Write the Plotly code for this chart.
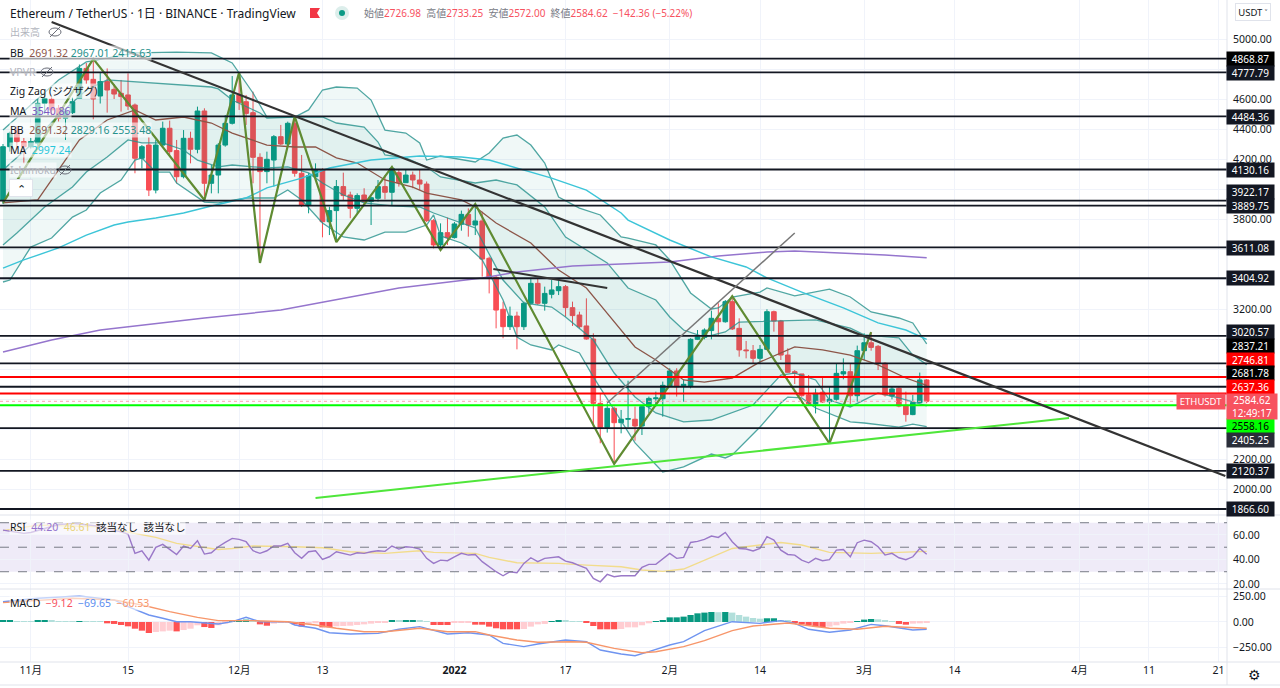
import pandas as pd
import plotly.graph_objects as go

FONT = "Noto Sans, Noto Sans CJK JP, sans-serif"
W, H = 1280, 688

# daily candles, 2021-10-28 .. 2022-03-10
start = pd.Timestamp("2021-10-28")
opens = [
    3927, 4282, 4393, 4316,
    4282, 4305, 4571, 4598, 4538, 4471, 4509, 4604, 4804, 4731, 4620, 4716, 4664, 4638, 4627, 4560,
    4205, 4293, 3993, 4293, 4405, 4256, 4082, 4338, 4265, 4520, 4038, 4093, 4293, 4438,
    4627, 4582, 4509, 4211, 4116, 4193, 4349, 4300, 4438, 4105, 3893, 4082, 4127, 3782, 3856, 4016,
    3960, 3871, 3960, 3916, 3938, 4016, 3978, 4109, 4042, 4093, 4060, 4033, 3789, 3627, 3709,
    3676, 3765, 3831, 3760, 3787, 3538, 3411, 3198, 3082, 3153, 3082, 3238, 3371, 3238, 3298, 3322,
    3349, 3209, 3160, 3087, 3000, 2571, 2411, 2538, 2442, 2465, 2465, 2420, 2549, 2602, 2602,
    2687, 2787, 2689, 2689, 2998, 3011, 3056, 3138, 3115, 3249, 3071, 2927, 2922, 2871, 2931, 3182,
    3120, 2893, 2782, 2767, 2627, 2567, 2645, 2582, 2598, 2767, 2782, 2622,
    2922, 2975, 2951, 2838, 2620, 2671, 2558, 2496, 2576, 2726.98,
]
highs = [
    4300, 4382, 4420, 4340,
    4340, 4600, 4627, 4615, 4560, 4530, 4610, 4830, 4840, 4864, 4775, 4804, 4700, 4727, 4771, 4570,
    4293, 4345, 4327, 4449, 4456, 4327, 4393, 4382, 4549, 4538, 4160, 4306, 4493, 4753,
    4776, 4627, 4649, 4238, 4249, 4360, 4427, 4449, 4482, 4227, 4105, 4171, 4138, 3882, 4060, 4109,
    3982, 3971, 4005, 3949, 4060, 4093, 4149, 4127, 4127, 4116, 4127, 4050, 3800, 3771, 3809,
    3780, 3856, 3871, 3893, 3849, 3549, 3420, 3249, 3216, 3182, 3249, 3405, 3405, 3349, 3393, 3389,
    3360, 3249, 3182, 3271, 3038, 2633, 2571, 2549, 2527, 2722, 2549, 2560, 2616, 2649, 2716,
    2805, 2805, 2731, 3005, 3060, 3071, 3189, 3238, 3260, 3282, 3138, 2987, 2960, 2960, 3198, 3189,
    3127, 2938, 2793, 2767, 2760, 2669, 2749, 2682, 2838, 2871, 2838, 2956,
    3038, 3045, 2960, 2845, 2682, 2682, 2649, 2627, 2776, 2733.25,
]
lows = [
    3900, 4249, 4270, 4171,
    4270, 4290, 4500, 4490, 4450, 4327, 4500, 4600, 4700, 4465, 4570, 4509, 4600, 4516, 4527, 4105,
    4138, 3953, 3971, 4282, 4227, 4038, 4071, 4171, 4238, 3949, 3971, 3971, 4282, 4430,
    4527, 4427, 4038, 3538, 4038, 4016, 4293, 4282, 4082, 3880, 3838, 4060, 3678, 3693, 3649, 3927,
    3805, 3838, 3887, 3760, 3916, 3931, 3893, 4016, 4040, 4005, 3993, 3780, 3604, 3598, 3627,
    3670, 3722, 3682, 3693, 3416, 3304, 3071, 3005, 3060, 2931, 3060, 3227, 3227, 3189, 3271, 3293,
    3149, 3087, 3071, 2995, 2416, 2305, 2376, 2167, 2371, 2411, 2322, 2360, 2505, 2549, 2482,
    2682, 2616, 2582, 2671, 2993, 2998, 2998, 3027, 3109, 3060, 2882, 2871, 2838, 2833, 2927, 3049,
    2860, 2776, 2700, 2615, 2560, 2504, 2575, 2304, 2589, 2731, 2567, 2582,
    2860, 2922, 2793, 2616, 2598, 2545, 2449, 2492, 2571, 2572,
]
closes = [
    4282, 4371, 4316, 4282,
    4316, 4571, 4604, 4527, 4471, 4516, 4582, 4804, 4727, 4600, 4716, 4660, 4633, 4616, 4553, 4205,
    4282, 3993, 4293, 4405, 4249, 4082, 4338, 4265, 4520, 4038, 4093, 4293, 4438, 4627,
    4576, 4504, 4211, 4116, 4198, 4349, 4300, 4438, 4105, 3893, 4089, 4127, 3782, 3856, 4016, 3956,
    3871, 3956, 3916, 3942, 4016, 3978, 4138, 4042, 4093, 4060, 4033, 3789, 3627, 3709, 3676,
    3767, 3831, 3760, 3787, 3533, 3404, 3193, 3082, 3153, 3082, 3238, 3371, 3238, 3304, 3327, 3349,
    3209, 3156, 3082, 3000, 2571, 2411, 2538, 2442, 2465, 2469, 2420, 2549, 2604, 2607, 2691,
    2787, 2682, 2698, 2998, 3015, 3060, 3138, 3115, 3249, 3067, 2927, 2922, 2871, 2931, 3182, 3120,
    2893, 2778, 2771, 2622, 2567, 2638, 2580, 2598, 2771, 2782, 2622, 2922,
    2975, 2944, 2838, 2627, 2667, 2553, 2496, 2576, 2727, 2584.62,
]

bb_outer_up_days = [0, 4, 8, 12, 19, 25, 30, 33, 34, 36, 38, 42, 44, 46, 48, 51, 53, 55, 58, 60, 61, 63, 68, 70, 72, 74, 76, 78, 80, 83, 86, 89, 90, 94, 96, 99, 102, 103, 105, 109, 110, 114, 119, 122, 125, 129, 131, 133]
bb_outer_up = [4393, 4560, 4727, 4847, 4907, 4913, 4907, 4840, 4773, 4640, 4480, 4480, 4527, 4660, 4680, 4673, 4593, 4393, 4373, 4307, 4193, 4220, 4180, 4240, 4340, 4360, 4293, 4173, 3947, 3873, 3827, 3680, 3673, 3627, 3527, 3307, 3200, 3207, 3280, 3313, 3340, 3287, 3333, 3280, 3180, 3140, 3107, 2967.01]
bb_outer_low_days = [0, 1, 4, 7, 10, 12, 14, 17, 19, 20, 22, 24, 25, 29, 31, 35, 39, 41, 43, 46, 49, 52, 55, 58, 61, 62, 63, 66, 67, 69, 72, 74, 76, 79, 80, 83, 85, 88, 91, 95, 98, 102, 104, 105, 109, 112, 113, 115, 117, 122, 124, 129, 131, 133]
bb_outer_low = [3380, 3393, 3613, 3673, 3813, 3860, 3973, 4060, 4193, 4207, 4113, 4113, 4040, 3913, 3907, 3940, 3940, 3993, 3927, 3773, 3680, 3660, 3713, 3713, 3760, 3827, 3687, 3640, 3613, 3527, 3260, 3013, 2960, 2927, 2960, 2907, 2747, 2527, 2307, 2113, 2147, 2233, 2207, 2227, 2413, 2573, 2613, 2607, 2540, 2447, 2440, 2413, 2433, 2415.63]
bb_inner_up_days = [0, 4, 8, 12, 15, 21, 30, 31, 33, 37, 38, 42, 46, 48, 52, 54, 55, 58, 61, 63, 68, 71, 74, 78, 81, 84, 87, 90, 94, 96, 98, 101, 104, 106, 111, 117, 122, 124, 129, 131, 133]
bb_inner_up = [4127, 4293, 4493, 4660, 4727, 4707, 4680, 4667, 4593, 4507, 4473, 4480, 4480, 4440, 4413, 4313, 4227, 4207, 4147, 4080, 4040, 4060, 4027, 3880, 3680, 3593, 3507, 3340, 3260, 3147, 3060, 3013, 3047, 3113, 3120, 3127, 3073, 3027, 3007, 2893, 2829.16]
bb_inner_low_days = [0, 2, 6, 10, 12, 15, 18, 20, 23, 26, 28, 31, 33, 38, 41, 44, 46, 49, 52, 56, 60, 62, 68, 72, 75, 79, 81, 85, 88, 91, 94, 98, 102, 108, 112, 114, 117, 119, 122, 126, 129, 133]
bb_inner_low = [3627, 3707, 3880, 4013, 4113, 4213, 4327, 4307, 4307, 4260, 4193, 4147, 4160, 4140, 4147, 4107, 4040, 3960, 3907, 3887, 3880, 3840, 3740, 3393, 3240, 3213, 3147, 2993, 2773, 2613, 2507, 2447, 2460, 2560, 2760, 2773, 2727, 2593, 2547, 2640, 2607, 2553.48]
bb_mid_days = [0, 5, 8, 11, 15, 19, 22, 26, 30, 33, 38, 42, 45, 48, 51, 55, 59, 61, 66, 68, 71, 76, 80, 84, 86, 89, 91, 94, 98, 101, 105, 109, 114, 118, 122, 126, 130, 133]
bb_mid = [3907, 3927, 4127, 4327, 4460, 4527, 4460, 4480, 4440, 4373, 4293, 4280, 4280, 4207, 4173, 4060, 4013, 3973, 3927, 3880, 3773, 3640, 3460, 3340, 3227, 3060, 2947, 2860, 2727, 2713, 2740, 2847, 2947, 2927, 2893, 2827, 2740, 2691.32]
ma_long_days = [0, 7, 14, 29, 40, 48, 57, 69, 74, 82, 89, 96, 103, 110, 114, 121, 127, 133]
ma_long = [2913, 2993, 3060, 3140, 3193, 3260, 3340, 3407, 3447, 3487, 3500, 3513, 3553, 3580, 3587, 3573, 3560, 3540.86]
ma_mid_days = [0, 3, 8, 12, 16, 18, 22, 26, 30, 35, 38, 43, 47, 53, 60, 66, 70, 74, 79, 84, 89, 90, 96, 102, 107, 110, 115, 121, 126, 130, 133]
ma_mid = [3473, 3527, 3607, 3693, 3760, 3780, 3807, 3840, 3887, 3940, 4007, 4073, 4140, 4193, 4220, 4213, 4193, 4140, 4073, 3993, 3840, 3793, 3660, 3547, 3480, 3407, 3313, 3207, 3107, 3060, 2997.24]

zigzag_days = [0, 13, 29, 34, 37, 42, 48, 56, 63, 68, 88, 105, 119, 125]
zigzag = [3907, 4868, 3927, 4778, 3507, 4484, 3646, 4147, 3593, 3900, 2167, 3285, 2304, 3046]

# hand drawn trend lines
trend_black_days = [7, 176]
trend_black = [5113, 2087]
trend_short_days = [70.6, 87]
trend_short = [3467, 3340]
trend_green_days = [45, 153.5]
trend_green = [1940, 2473]
trend_gray_days = [87, 114]
trend_gray = [2573, 3707]

black_levels = [4868.87, 4777.79, 4484.36, 4130.16, 3922.17, 3889.75, 3611.08, 3404.92, 3020.57, 2837.21, 2681.78, 2405.25, 2120.37, 1866.60]
red_levels = [2746.81, 2637.36]
green_levels = [2558.16]
last_price = 2584.62

rsi = [
    64.0, 63.0, 62.0, 61.3, 62.0, 63.5, 65.4, 67.0, 68.5, 68.9, 69.5, 69.0, 68.5, 68.1, 67.0, 65.0, 64.0, 62.5,
    60.7, 45.0, 47.1, 39.5, 49.9, 52.3, 48.2, 44.1, 51.0, 49.0, 55.3, 44.4, 45.5, 50.4, 53.9, 57.2, 56.4, 54.5,
    47.1, 45.0, 47.1, 51.0, 51.0, 53.1, 45.5, 40.9, 46.3, 47.1, 40.1, 42.2, 46.3, 45.0, 43.6, 45.5, 45.0, 46.3,
    47.1, 46.6, 51.0, 48.5, 50.4, 49.9, 48.5, 40.9, 36.8, 39.5, 39.0, 42.2, 45.0, 43.6, 44.1, 38.2, 34.1, 30.0,
    26.7, 30.0, 29.2, 36.8, 41.4, 38.2, 40.9, 41.7, 42.2, 38.7, 37.3, 34.9, 32.7, 24.6, 21.8, 27.8, 25.9, 26.7,
    27.0, 26.7, 33.5, 36.0, 36.0, 40.3, 45.0, 40.9, 41.7, 53.9, 54.8, 56.4, 59.1, 58.0, 62.1, 54.5, 49.0, 48.5,
    46.9, 49.0, 58.6, 55.8, 47.6, 44.1, 43.6, 39.5, 37.3, 40.9, 39.0, 39.8, 47.6, 48.2, 42.2, 53.7, 55.8, 54.5,
    50.4, 43.6, 45.0, 41.4, 39.8, 42.2, 49.0, 44.2,
]
rsi_ma_days = [0, 5, 14, 18, 22, 25, 29, 31, 33, 36, 42, 46, 50, 55, 60, 62, 68, 70, 74, 77, 80, 84, 89, 92, 95, 98, 101, 105, 109, 112, 115, 119, 125, 133]
rsi_ma = [63.5, 68.0, 66.7, 62.6, 58.0, 53.1, 49.6, 48.2, 49.0, 51.0, 50.4, 49.6, 46.3, 45.0, 47.1, 45.8, 45.0, 41.7, 37.3, 36.8, 36.8, 35.4, 34.1, 31.4, 30.3, 32.2, 39.5, 49.0, 51.8, 53.9, 51.8, 45.8, 45.0, 46.61]

macd_days = [0, 5, 11, 16, 18, 21, 23, 25, 27, 31, 33, 35, 37, 41, 42, 45, 47, 50, 54, 57, 60, 62, 64, 67, 70, 72, 75, 77, 81, 84, 86, 89, 91, 93, 96, 98, 101, 105, 109, 112, 114, 116, 119, 122, 125, 127, 131, 133]
macd = [197, 230, 252, 214, 149, 68, 36, 3, 3, -19, 3, 45, 3, 3, -29, -61, -104, -116, -110, -71, -45, -78, -116, -104, -126, -207, -239, -214, -175, -191, -272, -311, -327, -288, -223, -191, -84, 3, -13, 13, -13, -71, -100, -78, -23, -36, -78, -69.65]
signal_days = [0, 10, 16, 20, 24, 28, 31, 36, 41, 45, 48, 52, 55, 60, 64, 68, 70, 74, 77, 82, 84, 88, 92, 94, 98, 101, 105, 108, 113, 115, 119, 123, 127, 133]
signal = [188, 230, 214, 165, 100, 45, 13, 13, 3, -29, -61, -94, -94, -61, -94, -94, -126, -175, -197, -191, -197, -256, -298, -288, -239, -181, -84, -39, -10, -29, -61, -71, -42, -60.53]
hist = [
    10, 13, 5, 5, 3, 13, 16, 10, 7, 4, 3, 8, 5, 3, 1,
    -13, -19, -29, -42, -65, -84, -107, -97, -91, -84, -91, -78, -65, -32, -49, -58, -32, -16, 19, 19, 23, 10,
    -23, -36, -16, -10, -3, -23, -45, -23, -13, -52, -52, -42, -39, -36, -29, -23, -16, -10, -3,
    13, 10, 16, 19, 13, 3, -29, -29, -29, -10, -6, -6, -26,
    -26, -45, -61, -71, -71, -71, -68, -45, -23, -19, 6, 13, 10, 6, 3, -6, -39, -71, -71, -71, -68, -52, -52, -32, -13,
    6, 19, 45, 45, 52, 68, 84, 91, 97, 95, 97, 91, 68, 52, 39, 32, 36, 36, 19, 10,
    -6, -23, -32, -49, -49, -45, -32, -16, -6, 3, 23, 29, 26, 13, 6, -19, -26, -16, -13, -9.12,
]

x_tick_days = [4, 18, 34, 46, 65, 81, 96, 109, 124, 137, 155, 165, 175]
x_tick_text = ["11月", "15", "12月", "13", "<b>2022</b>", "17", "2月", "14", "3月", "14", "4月", "11", "21"]
price_ticks = [5000, 4800, 4600, 4400, 4200, 4000, 3800, 3600, 3400, 3200, 3000, 2800, 2600, 2400, 2200, 2000]
# the rest of the scale sits behind the level tags
price_tick_text = ["5000.00", "", "4600.00", "4400.00", "4200.00", "", "3800.00", "", "", "3200.00", "", "", "", "", "2200.00", "2000.00"]

# tag on the price scale: value, fill, text colour, height on the page
price_tags = [
    ("4868.87", "#000000", "#ffffff", 59), ("4777.79", "#131722", "#ffffff", 73),
    ("4484.36", "#131722", "#ffffff", 117), ("4130.16", "#131722", "#ffffff", 170),
    ("3922.17", "#131722", "#ffffff", 192), ("3889.75", "#131722", "#ffffff", 206),
    ("3611.08", "#131722", "#ffffff", 248), ("3404.92", "#131722", "#ffffff", 278),
    ("3020.57", "#131722", "#ffffff", 332), ("2837.21", "#000000", "#ffffff", 346),
    ("2746.81", "#ff0000", "#ffffff", 360), ("2681.78", "#000000", "#ffffff", 373),
    ("2637.36", "#ff0000", "#ffffff", 387), ("2558.16", "#00ff00", "#000000", 426),
    ("2405.25", "#2a2e39", "#ffffff", 440), ("2120.37", "#131722", "#ffffff", 471),
    ("1866.60", "#131722", "#ffffff", 509),
]


def to_dates(days):
    return start + pd.to_timedelta(list(days), unit="D")


def px_x(x):
    return x / W


def px_y(y):
    return 1 - y / H


def price_line(days, values, color, width=1.3, dash=None, row=""):
    return go.Scatter(
        x=to_dates(days), y=values, mode="lines", hoverinfo="skip",
        line=dict(color=color, width=width, dash=dash), xaxis="x" + row, yaxis="y" + row,
    )


def band_fill(up_days, up, low_days, low, color):
    return go.Scatter(
        x=to_dates(list(up_days) + list(low_days)[::-1]), y=list(up) + list(low)[::-1],
        mode="lines", fill="toself", fillcolor=color, line=dict(width=0), hoverinfo="skip",
    )


day_count = len(closes)
all_days = range(day_count)
x_left, x_right = -0.432, 176.24  # day numbers at the pane edges
BAND = "rgba(38,145,140,0.8)"
TEAL_FILL = "rgba(0,137,123,0.06)"

fig = go.Figure()
fig.add_trace(band_fill(bb_outer_up_days, bb_outer_up, bb_outer_low_days, bb_outer_low, TEAL_FILL))
fig.add_trace(band_fill(bb_inner_up_days, bb_inner_up, bb_inner_low_days, bb_inner_low, TEAL_FILL))

fig.add_trace(go.Candlestick(
    x=to_dates(all_days), open=opens, high=highs, low=lows, close=closes, hoverinfo="skip",
    increasing=dict(line=dict(color="#0a9a85", width=1), fillcolor="#0a9a85"),
    decreasing=dict(line=dict(color="#f94d54", width=1), fillcolor="#f94d54"),
))

for d, v in [(bb_outer_up_days, bb_outer_up), (bb_outer_low_days, bb_outer_low),
             (bb_inner_up_days, bb_inner_up), (bb_inner_low_days, bb_inner_low)]:
    fig.add_trace(price_line(d, v, BAND))
fig.add_trace(price_line(bb_mid_days, bb_mid, "#8c5548"))
fig.add_trace(price_line(ma_long_days, ma_long, "#9575cd", 1.5))
fig.add_trace(price_line(ma_mid_days, ma_mid, "#3cc5d8", 1.4))
fig.add_trace(price_line(zigzag_days, zigzag, "#5f8b32", 2.2))

for level in black_levels:
    fig.add_trace(price_line([x_left, x_right], [level, level], "#131722", 1.8))
for level in red_levels:
    fig.add_trace(price_line([x_left, x_right], [level, level], "#ff0000", 2))
for level in green_levels:
    fig.add_trace(price_line([x_left, x_right], [level, level], "#00ff00", 2))
fig.add_trace(price_line([x_left, 168.8], [last_price, last_price], "#f7a8ad", 1, "dot"))

fig.add_trace(price_line(trend_black_days, trend_black, "#333333", 2.2))
fig.add_trace(price_line(trend_short_days, trend_short, "#333333", 2))
fig.add_trace(price_line(trend_green_days, trend_green, "#4fe63a", 2))
fig.add_trace(price_line(trend_gray_days, trend_gray, "#777777", 1.5))

# RSI pane
fig.add_trace(price_line(rsi_ma_days, rsi_ma, "#f2dc8c", 1.4, row="2"))
fig.add_trace(price_line(all_days, rsi, "#9a78c8", 1.4, row="2"))

# MACD pane, dark bars while the histogram grows and pale ones while it shrinks
hist_colors = []
growing = True
for i, value in enumerate(hist):
    if i > 0 and value != hist[i - 1]:
        growing = abs(value) > abs(hist[i - 1]) if value * hist[i - 1] > 0 else True
    if value >= 0:
        hist_colors.append("#089981" if growing else "#b2dfdb")
    else:
        hist_colors.append("#ff5252" if growing else "#ffcdd2")
fig.add_trace(go.Bar(x=to_dates(all_days), y=hist, marker=dict(color=hist_colors, line=dict(width=0)),
                     xaxis="x3", yaxis="y3", hoverinfo="skip"))
fig.add_trace(price_line(macd_days, macd, "#6f94f0", 1.4, row="3"))
fig.add_trace(price_line(signal_days, signal, "#f7966a", 1.4, row="3"))

shapes = []


def page_line(x0, y0, x1, y1, color="#e0e3eb", width=1, dash=None):
    shapes.append(dict(type="line", xref="paper", yref="paper", x0=px_x(x0), x1=px_x(x1), y0=px_y(y0), y1=px_y(y1),
                       line=dict(color=color, width=width, dash=dash), layer="above"))


for y in (515, 589, 662, 685):
    page_line(0, y, W, y)
page_line(1227, 0, 1227, 685)

# dashed RSI band
shapes.append(dict(type="rect", xref="x2", yref="y2", x0=to_dates([x_left])[0], x1=to_dates([x_right])[0], y0=30, y1=70,
                   fillcolor="rgba(126,87,194,0.12)", line=dict(width=0), layer="below"))
for level in (70, 50, 30):
    shapes.append(dict(type="line", xref="x2", yref="y2", x0=to_dates([x_left])[0], x1=to_dates([x_right])[0],
                       y0=level, y1=level, line=dict(color="#787b86", width=1, dash="dash"), layer="above"))

annotations = []


def label(x, y, text, color="#131722", size=11, bg=None, **kw):
    annotations.append(dict(xref="paper", yref="paper", x=px_x(x), y=px_y(y), text=text, showarrow=False,
                            xanchor=kw.pop("xanchor", "left"), yanchor="middle",
                            font=dict(family=FONT, size=size, color=color), bgcolor=bg, borderpad=kw.pop("pad", 0), **kw))


def eye(x, y):
    shapes.append(dict(type="circle", xref="paper", yref="paper", x0=px_x(x - 6), x1=px_x(x + 6), y0=px_y(y + 4), y1=px_y(y - 4),
                       line=dict(color="#6a6d78", width=1), layer="above"))
    page_line(x - 5, y + 5, x + 5, y - 5, "#6a6d78", 1)


RED = "#f7525f"
GRAY = "#787b86"
label(9, 13, "Ethereum / TetherUS · 1日 · BINANCE · TradingView", size=12)
label(363, 13, (
    f"<span style='color:{GRAY}'>始値</span>2726.98  <span style='color:{GRAY}'>高値</span>2733.25  "
    f"<span style='color:{GRAY}'>安値</span>2572.00  <span style='color:{GRAY}'>終値</span>2584.62  −142.36 (−5.22%)"
), RED, 10)

# flag and market status dot
shapes.append(dict(type="path", xref="paper", yref="paper", layer="above", fillcolor="#f23645", line=dict(width=0),
                   path=f"M {px_x(310)} {px_y(8)} L {px_x(320)} {px_y(8)} L {px_x(317)} {px_y(13)} L {px_x(320)} {px_y(18)} L {px_x(310)} {px_y(18)} Z"))
shapes.append(dict(type="circle", xref="paper", yref="paper", x0=px_x(335), x1=px_x(349), y0=px_y(20), y1=px_y(6),
                   fillcolor="#dceeeb", line=dict(width=0), layer="above"))
shapes.append(dict(type="circle", xref="paper", yref="paper", x0=px_x(339), x1=px_x(345), y0=px_y(16), y1=px_y(10),
                   fillcolor="#0a9a85", line=dict(width=0), layer="above"))

VEIL = "rgba(255,255,255,0.6)"
BROWN = "#8c5548"
TEAL = "#26918c"
label(9, 32, "出来高", "#b2b5be", 10, VEIL)
eye(55, 32)
label(9, 53, f"BB  <span style='color:{BROWN}'>2691.32</span> <span style='color:{TEAL}'>2967.01</span> <span style='color:{TEAL}'>2415.63</span>", size=10.5, bg=VEIL)
label(9, 72, "VPVR", "#b2b5be", 10.5, VEIL)
eye(47, 72)
label(9, 91, "Zig Zag (ジグザグ)", size=10.5, bg=VEIL)
label(9, 111, "MA  <span style='color:#7e57c2'>3540.86</span>", size=10.5, bg=VEIL)
label(9, 130, f"BB  <span style='color:{BROWN}'>2691.32</span> <span style='color:{TEAL}'>2829.16</span> <span style='color:{TEAL}'>2553.48</span>", size=10.5, bg=VEIL)
label(9, 150, "MA  <span style='color:#26c6da'>2997.24</span>", size=10.5, bg=VEIL)
label(9, 170, "Ichimoku", "#b2b5be", 10.5, VEIL)
eye(65, 170)
label(21, 188, "⌃", "#131722", 11, "#ffffff", xanchor="center", width=22, height=16, bordercolor="#e0e3eb", borderwidth=1)

label(9, 527, "RSI  <span style='color:#9575cd'>44.20</span>  <span style='color:#e8d27a'>46.61</span>  該当なし  該当なし", size=10.5, bg=VEIL)
label(9, 603, "MACD  <span style='color:#f7525f'>−9.12</span>  <span style='color:#5b8def'>−69.65</span>  <span style='color:#f7966a'>−60.53</span>", size=10.5, bg=VEIL)

for text, fill, ink, y in price_tags:
    label(1226, y, text, ink, 10, fill, width=47, height=14, align="center")
label(1226, 406, "2584.62<br>12:49:17", "#ffffff", 10, RED, width=50, height=25, align="center")
label(1176, 401, "ETHUSDT", "#ffffff", 9.5, RED, width=48, height=15, align="center")
label(1253, 12, "USDT ˅", "#131722", 9.5, "#ffffff", xanchor="center", width=34, height=16, bordercolor="#e0e3eb", borderwidth=1)
label(1254, 674, "⚙", "#131722", 14, xanchor="center")

x_common = dict(
    type="date", domain=[0, 1227 / W], range=[to_dates([x_left])[0], to_dates([x_right])[0]],
    tickvals=to_dates(x_tick_days), ticktext=x_tick_text, gridcolor="#f0f3fa", showgrid=True, zeroline=False,
    showline=False, ticks="", rangeslider=dict(visible=False),
)
y_common = dict(side="right", showgrid=True, gridcolor="#f0f3fa", zeroline=False, showline=False, ticks="",
                ticklabelstandoff=5, tickfont=dict(family=FONT, size=10.5, color="#131722"))

fig.update_layout(
    width=W, height=H, margin=dict(l=0, r=0, t=0, b=0, autoexpand=False),
    paper_bgcolor="#ffffff", plot_bgcolor="#ffffff", showlegend=False, bargap=0.1, boxgap=0.05,
    font=dict(family=FONT, size=11, color="#131722"), hovermode=False,
    xaxis={**x_common, "anchor": "y", "showticklabels": False},
    xaxis2={**x_common, "anchor": "y2", "matches": "x", "showticklabels": False},
    xaxis3={**x_common, "anchor": "y3", "matches": "x", "showticklabels": True, "tickfont": dict(family=FONT, size=10.5, color="#131722")},
    yaxis={**y_common, "domain": [1 - 515 / H, 1], "anchor": "x", "range": [1826.67, 5260],
           "tickvals": price_ticks, "ticktext": price_tick_text},
    yaxis2={**y_common, "domain": [1 - 589 / H, 1 - 515 / H], "anchor": "x2", "range": [15.9, 76.3],
            "tickvals": [60, 40, 20], "ticktext": ["60.00", "40.00", "20.00"]},
    yaxis3={**y_common, "domain": [1 - 662 / H, 1 - 589 / H], "anchor": "x3", "range": [-388, 320],
            "tickvals": [250, 0, -250], "ticktext": ["250.00", "0.00", "−250.00"]},
    shapes=shapes, annotations=annotations,
)

fig.write_html("out.html", config=dict(displayModeBar=False),
               post_script="document.body.style.margin='0';document.body.style.overflow='hidden';")
